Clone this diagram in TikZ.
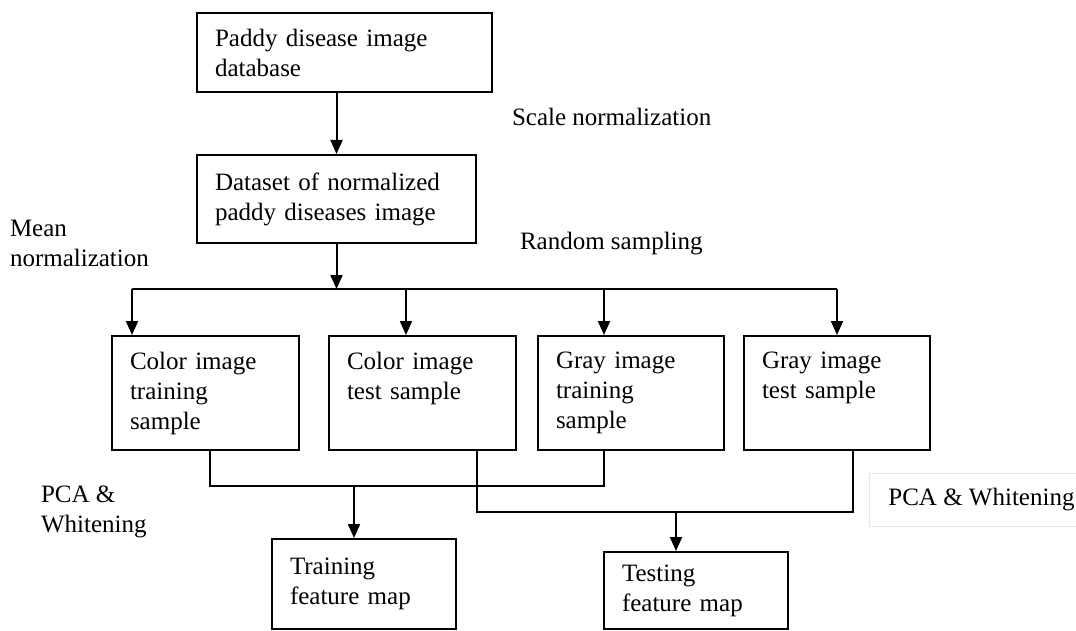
\documentclass[tikz,border=0pt]{standalone}
\usepackage{fontspec}
\setmainfont{Liberation Serif}
\usetikzlibrary{arrows.meta,positioning,calc}

\begin{document}
\begin{tikzpicture}[x=1pt,y=-1pt,line width=2pt,>={Triangle[length=14pt,width=12pt]},
  font=\fontsize{25pt}{30pt}\selectfont,
  stage/.style={draw,rectangle,align=left,inner xsep=18pt,inner ysep=0pt},
  lbl/.style={anchor=west,align=left,inner sep=0pt}]
\useasboundingbox (0,0) rectangle (1076,631);
% stages
\node[stage,text width=259pt,minimum height=79pt] (db) at (344.5,52.5) {Paddy disease image\\database};
\node[stage,text width=243pt,minimum height=88pt] (norm) at (336.5,199) {Dataset of normalized\\paddy diseases image};
\node[stage,text width=151pt,minimum height=114pt] (cTrain) at (205.5,393) {Color image\\training\\sample};
\node[stage,text width=151pt,minimum height=114pt] (cTest) at (422.5,393) {Color image\\test sample\\\phantom{sample}};
\node[stage,text width=150pt,minimum height=114pt] (gTrain) at (631,393) {Gray image\\training\\sample};
\node[stage,text width=150pt,minimum height=114pt] (gTest) at (837,393) {Gray image\\test sample\\\phantom{sample}};
\node[stage,text width=148pt,minimum height=90pt] (trainMap) at (364,584) {Training\\feature map};
\node[stage,text width=148pt,minimum height=77pt] (testMap) at (696,590.5) {Testing\\feature map};
% step labels
\node[lbl] (scaleL) at (511,117) {Scale normalization};
\node[lbl] (meanL) at (9,243) {Mean\\normalization};
\node[lbl] (randL) at (519,244) {Random sampling};
\node[lbl] (pcaL) at (40,512) {PCA \&\\Whitening};
\node[lbl,draw=black!10,line width=0.8pt,inner xsep=19pt,minimum height=53pt] (pcaR) at (869,500) {PCA \& Whitening};
% top flow
\draw[->] (db.south -| norm.north) -- (norm.north);
\coordinate (fork) at ([yshift=-45pt]norm.south);
\draw[->] (norm.south) -- (fork);
\coordinate (inA) at ([xshift=-73.5pt]cTrain.north);
\coordinate (inB) at ([xshift=-16.5pt]cTest.north);
\coordinate (inC) at ([xshift=-27pt]gTrain.north);
\coordinate (inD) at (gTest.north);
\draw (inA |- fork) -- (inD |- fork);
\foreach \t in {inA,inB,inC,inD}
  \draw[->] (\t |- fork) -- (\t);
% training branch
\coordinate (outA) at ([xshift=4.5pt]cTrain.south);
\coordinate (outC) at ([xshift=-27pt]gTrain.south);
\coordinate (joinT) at ([yshift=-35pt]outA);
\draw (outA) -- (joinT) -| (outC);
\coordinate (inT) at ([xshift=-10pt]trainMap.north);
\draw[->] (inT |- joinT) -- (inT);
% testing branch
\coordinate (outB) at ([xshift=54.5pt]cTest.south);
\coordinate (outD) at ([xshift=16pt]gTest.south);
\coordinate (joinS) at ([yshift=-61pt]outB);
\draw (outB) -- (joinS) -| (outD);
\coordinate (inS) at ([xshift=-20pt]testMap.north);
\draw[->] (inS |- joinS) -- (inS);
\end{tikzpicture}
\end{document}
